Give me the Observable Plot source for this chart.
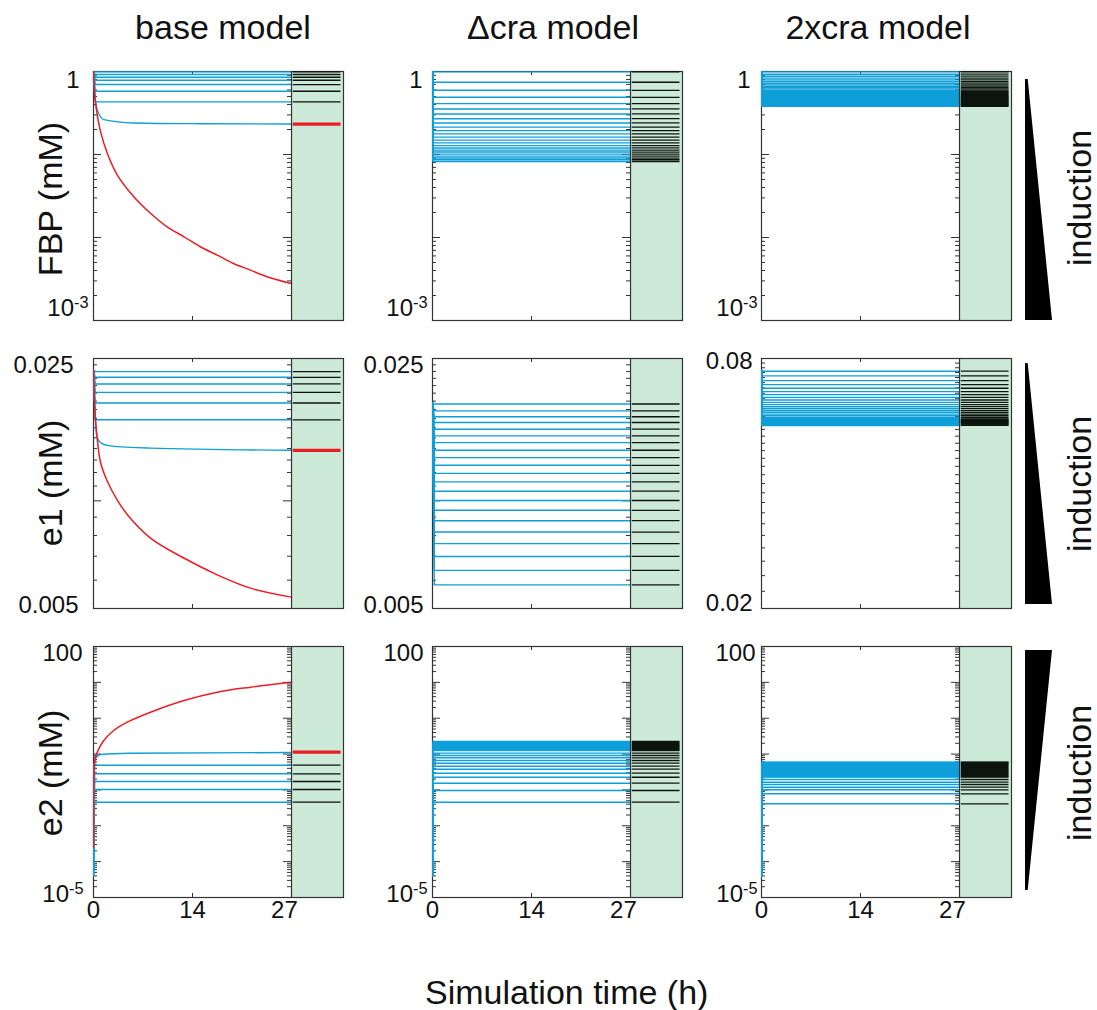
<!DOCTYPE html>
<html><head><meta charset="utf-8">
<script src="https://cdn.jsdelivr.net/npm/d3@7"></script>
<script src="https://cdn.jsdelivr.net/npm/@observablehq/plot@0.6"></script>
<style>
body{margin:0;background:#fff;font-family:"Liberation Sans",Arial,sans-serif;}
#fig{position:relative;width:1097px;height:1010px;overflow:hidden;background:#fff}
#fig > div{position:absolute}
</style></head><body><div id="fig"></div>
<script>
// ================= DATA =================
const T_END = 28;                 // end of simulation (h)
const X_MAX = 35.35;              // time axis incl. steady-state strip
const xTickValues = [0, 14, 27];
const xTickLabels = ["0", "14", "27"];
const columnTitles = ["base model", "\u0394cra model", "2xcra model"];
const rowLabels = ["FBP (mM)", "e1 (mM)", "e2 (mM)"];
const sideLabel = "induction";
const xLabel = "Simulation time (h)";

const fbpDomain = [0.001, 1];
const e1Domain = [0.005, 0.025];
const e1Domain2x = [0.02, 0.08];
const e2Domain = [1e-5, 100];
const fbpTickLabels = ["1", "10^-3"];
const e1TickLabels = ["0.025", "0.005"];
const e1TickLabels2x = ["0.08", "0.02"];
const e2TickLabels = ["100", "10^-5"];

// base model
const fbpStart = 1;
const fbpBaseFlat = [0.99, 0.92, 0.853, 0.785, 0.696, 0.578, 0.43];
const fbpBaseCurveT = [0, 0.18, 0.52, 1.46, 5.66, 15, 28];
const fbpBaseCurveV = [1, 0.553, 0.347, 0.263, 0.24, 0.235, 0.233];
const fbpBaseRedT = [0, 0.18, 0.52, 0.99, 1.94, 3.35, 5.7, 8.06, 10.4, 12.8, 15.1, 17.5, 19.8, 22.2, 24.6, 28];
const fbpBaseRedV = [1, 0.503, 0.302, 0.19, 0.104, 0.0569, 0.031, 0.0196, 0.01347, 0.0102, 0.00773, 0.00613, 0.00486, 0.00404, 0.00335, 0.00279];
const fbpBaseRedSS = 0.232;

const e1BaseStart = 0.0232;
const e1BaseFlat = [0.02298, 0.02215, 0.02122, 0.0201, 0.01877, 0.01685];
const e1BaseCurveT = [0, 0.18, 0.52, 1.2, 2.4, 8, 28];
const e1BaseCurveV = [0.0232, 0.0182, 0.0150, 0.01445, 0.01424, 0.01404, 0.01385];
const e1BaseRedT = [0, 0.18, 0.52, 1.0, 1.94, 3.3, 4.77, 8.06, 12.77, 17.5, 22.2, 28];
const e1BaseRedV = [0.0232, 0.0182, 0.0150, 0.0128, 0.01136, 0.0101, 0.00916, 0.00787, 0.00692, 0.00621, 0.0057, 0.00538];
const e1BaseRedSS = 0.01383;

const e2Start = 4.1e-5;
const e2BaseFlat = [0.049, 0.0282, 0.01718, 0.01028, 0.00455];
const e2BaseCurveT = [0, 0.03, 0.1, 0.28, 1, 5, 28];
const e2BaseCurveV = [4.1e-5, 0.01, 0.05, 0.0753, 0.0973, 0.105, 0.1107];
const e2BaseRedT = [0, 0.02, 0.1, 0.28, 0.75, 1.46, 2.87, 4.77, 8.06, 12.8, 17.5, 22.2, 28];
const e2BaseRedV = [2.5e-4, 0.0063, 0.0348, 0.0818, 0.14, 0.239, 0.455, 0.775, 1.47, 3.12, 5.32, 7.33, 10.1];
const e2BaseRedSS = 0.113;

// Δcra model
const fbpDcraSS = [0.99, 0.742, 0.594, 0.489, 0.41, 0.354, 0.308, 0.27, 0.24, 0.214, 0.194, 0.177, 0.162, 0.149, 0.138, 0.128, 0.12, 0.113, 0.107, 0.101, 0.0956, 0.0906, 0.0864, 0.0824];
const e1DcraStart = 0.0188;
const e1DcraSS = [0.01865, 0.01785, 0.01718, 0.01656, 0.01586, 0.01519, 0.01455, 0.01385, 0.01321, 0.01257, 0.01193, 0.0113, 0.01064, 0.01002, 0.00941, 0.0088, 0.00818, 0.00759, 0.00699, 0.00639, 0.00582];
const e2DcraSS = [0.2244, 0.2103, 0.1971, 0.1848, 0.1733, 0.1625, 0.1524, 0.1431, 0.1342, 0.1259, 0.106, 0.0913, 0.0787, 0.0662, 0.0557, 0.0459, 0.0379, 0.0293, 0.0226, 0.0154, 0.00964, 0.00455];

// 2xcra model
const fbp2xSS = [0.991, 0.928, 0.878, 0.831, 0.793, 0.757, 0.723, 0.69, 0.665, 0.641, 0.617, 0.595, 0.578, 0.562, 0.547, 0.532, 0.517, 0.503, 0.494, 0.485, 0.476, 0.467, 0.459, 0.45, 0.442, 0.434, 0.426, 0.418, 0.41, 0.403, 0.395, 0.388, 0.381];
const e12xStart = 0.0748;
const e12xSS = [0.07455, 0.07265, 0.07077, 0.06921, 0.06784, 0.06656, 0.06548, 0.0645, 0.06356, 0.06273, 0.06193, 0.06124, 0.06056, 0.05989, 0.05933, 0.05878, 0.05824, 0.0577, 0.05727, 0.05706, 0.05685, 0.05664, 0.05643, 0.05622, 0.05602, 0.05581, 0.0556, 0.05539, 0.05519];
const e22xSS = [0.0594, 0.0582, 0.0546, 0.0512, 0.0481, 0.0451, 0.0423, 0.0396, 0.0372, 0.0349, 0.0327, 0.0306, 0.0288, 0.027, 0.0253, 0.0237, 0.0227, 0.01954, 0.01644, 0.01419, 0.01192, 0.01009, 0.0078, 0.00411];

// induction wedge (relative width along the bar)
const wedgeY = [0, 1];
const wedgeDown = [0.1, 1];   // narrow at top, wide at bottom
const wedgeUp = [1, 0.1];     // wide at top, narrow at bottom

// ================= STYLE / LAYOUT =================
const GREEN = "#cde9d8", BLUE = "#0e9fd9", RED = "#ec1c24", INK = "#333", BLACK = "#0d150f";
const FONT = "'Liberation Sans', Arial, Helvetica, sans-serif";
const colLeft = [93, 432, 761];
const rowTop = [71, 358, 646];
const rowHeight = [249, 250, 251];
const PANEL_W = 250, MAIN_W = 198;
const ML = 100, MR = 6, MT = 10;
const TICK_FS = 24;

const panels = [
  {domain: fbpDomain, ticks: "log", labels: fbpTickLabels, flat: fbpBaseFlat, start: fbpStart, tReach: 0.25,
   curve: [fbpBaseCurveT, fbpBaseCurveV], red: [fbpBaseRedT, fbpBaseRedV], redSS: fbpBaseRedSS, black: fbpBaseFlat, dy: [9, -12], gap: [14, 5]},
  {domain: fbpDomain, ticks: "log", labels: fbpTickLabels, flat: fbpDcraSS, start: fbpStart, tReach: 0.05, black: fbpDcraSS, dy: [9, -12], gap: [10, 5]},
  {domain: fbpDomain, ticks: "log", labels: fbpTickLabels, flat: fbp2xSS, start: fbpStart, tReach: 0.05, black: fbp2xSS, dy: [9, -12], gap: [11, 4]},
  {domain: e1Domain, ticks: "lin", labels: e1TickLabels, flat: e1BaseFlat, start: e1BaseStart, tReach: 0.25,
   curve: [e1BaseCurveT, e1BaseCurveV], red: [e1BaseRedT, e1BaseRedV], redSS: e1BaseRedSS, black: e1BaseFlat, dy: [7, -3], gap: [20, 15]},
  {domain: e1Domain, ticks: "lin", labels: e1TickLabels, flat: e1DcraSS, start: e1DcraStart, tReach: 0.25, black: e1DcraSS, dy: [7, -3], gap: [9, 9]},
  {domain: e1Domain2x, ticks: "lin", labels: e1TickLabels2x, flat: e12xSS, start: e12xStart, tReach: 0.05, black: e12xSS, dy: [3, -5], gap: [9, 9]},
  {domain: e2Domain, ticks: "log", labels: e2TickLabels, flat: e2BaseFlat, start: e2Start, tReach: 0.15,
   curve: [e2BaseCurveT, e2BaseCurveV], red: [e2BaseRedT, e2BaseRedV], redSS: e2BaseRedSS, black: e2BaseFlat, dy: [7, -3], gap: [11, 10]},
  {domain: e2Domain, ticks: "log", labels: e2TickLabels, flat: e2DcraSS, start: e2Start, tReach: 0.08, black: e2DcraSS, dy: [7, -3], gap: [9, 5]},
  {domain: e2Domain, ticks: "log", labels: e2TickLabels, flat: e22xSS, start: e2Start, tReach: 0.08, black: e22xSS, dy: [7, -3], gap: [6, 4]}
];

const fig = document.getElementById("fig");
const SVGNS = "http://www.w3.org/2000/svg";

function place(node, left, top) {
  const d = document.createElement("div");
  d.style.left = left + "px"; d.style.top = top + "px";
  d.appendChild(node); fig.appendChild(d);
}

function superscripts(svg) {
  svg.querySelectorAll("text").forEach(t => {
    const s = t.textContent;
    if (s.includes("^")) {
      const [b, e] = s.split("^");
      t.textContent = b;
      const ts = document.createElementNS(SVGNS, "tspan");
      ts.setAttribute("dy", "-0.5em");
      ts.setAttribute("font-size", "0.68em");
      ts.textContent = e;
      t.appendChild(ts);
    }
  });
}

panels.forEach((p, k) => {
  const r = Math.floor(k / 3), c = k % 3;
  const H = rowHeight[r];
  const MB = r === 2 ? 42 : 10;
  const [lo, hi] = p.domain;
  const tickVals = p.ticks === "log" ? d3.scaleLog().domain(p.domain).ticks() : d3.ticks(lo, hi, 20);
  const isMajor = v => Math.abs(Math.log10(v) - Math.round(Math.log10(v))) < 1e-6;
  const minor = tickVals.filter(v => !isMajor(v)), major = tickVals.filter(isMajor);

  const flatRows = p.flat.flatMap((v, i) => [
    {t: 0, v: p.start, id: i}, {t: p.tReach, v, id: i}, {t: T_END, v, id: i}
  ]);
  const marks = [
    Plot.rect([{x1: T_END, x2: X_MAX}], {x1: "x1", x2: "x2", y1: () => lo, y2: () => hi, fill: GREEN}),
    Plot.frame({stroke: INK, strokeWidth: 1.2}),
    Plot.ruleY(minor, {insetRight: PANEL_W - 4, stroke: INK, strokeWidth: 1}),
    Plot.ruleY(major, {insetRight: PANEL_W - 8, stroke: INK, strokeWidth: 1}),
    Plot.ruleY(minor, {insetLeft: MAIN_W - 4, insetRight: PANEL_W - MAIN_W, stroke: INK, strokeWidth: 1}),
    Plot.ruleY(major, {insetLeft: MAIN_W - 8, insetRight: PANEL_W - MAIN_W, stroke: INK, strokeWidth: 1}),
    Plot.ruleX([14], {insetTop: H - 4, stroke: INK}),
    Plot.ruleX([14], {insetBottom: H - 4, stroke: INK}),
    Plot.line(flatRows, {x: "t", y: "v", z: "id", stroke: BLUE, strokeWidth: 1.4, clip: true})
  ];
  if (p.curve) {
    const rows = p.curve[0].map((t, i) => ({t, v: p.curve[1][i]}));
    marks.push(Plot.line(rows, {x: "t", y: "v", stroke: BLUE, strokeWidth: 1.4, curve: "monotone-x", clip: true}));
  }
  if (p.red) {
    const rows = p.red[0].map((t, i) => ({t, v: p.red[1][i]}));
    marks.push(Plot.line(rows, {x: "t", y: "v", stroke: RED, strokeWidth: 1.5, curve: "catmull-rom", clip: true}));
  }
  marks.push(Plot.ruleY(p.black, {x1: 28.25, x2: 35.0, stroke: BLACK, strokeWidth: 1.3}));
  if (p.redSS) marks.push(Plot.ruleY([p.redSS], {x1: 28.25, x2: 35.0, stroke: RED, strokeWidth: 3.2}));
  marks.push(Plot.ruleX([T_END], {stroke: INK, strokeWidth: 1.2}));
  marks.push(Plot.text([hi], {x: () => 0, y: d => d, text: () => p.labels[0], textAnchor: "end", dx: -p.gap[0], dy: p.dy[0], fontSize: TICK_FS, fill: "#111"}));
  marks.push(Plot.text([lo], {x: () => 0, y: d => d, text: () => p.labels[1], textAnchor: "end", dx: -p.gap[1], dy: p.dy[1], fontSize: TICK_FS, fill: "#111"}));
  if (r === 2) {
    marks.push(Plot.text(xTickValues, {x: d => d, text: (d, i) => xTickLabels[i], frameAnchor: "bottom", dy: 20, fontSize: TICK_FS, fill: "#111"}));
  }

  const svg = Plot.plot({
    width: ML + PANEL_W + MR, height: MT + H + MB,
    marginLeft: ML, marginRight: MR, marginTop: MT, marginBottom: MB,
    x: {domain: [0, X_MAX], axis: null},
    y: {type: "log", domain: p.domain, axis: null},
    style: {fontFamily: FONT, background: "transparent", overflow: "visible"},
    marks
  });
  superscripts(svg);
  place(svg, colLeft[c] - ML, rowTop[r] - MT);
});

// induction wedges
const wedgeTop = [79, 363, 650], wedgeH = [241, 241, 240];
[wedgeDown, wedgeDown, wedgeUp].forEach((w, r) => {
  const rows = wedgeY.map((y, i) => ({y, w: w[i]}));
  const svg = Plot.plot({
    width: 27, height: wedgeH[r], margin: 0,
    x: {domain: [0, 1], axis: null},
    y: {domain: [0, 1], range: [0, wedgeH[r]], axis: null},
    style: {background: "transparent"},
    marks: [Plot.areaX(rows, {y: "y", x1: () => 0, x2: "w", fill: "#000"})]
  });
  place(svg, 1025, wedgeTop[r]);
});

// overlay text
const ov = d3.select(fig).append("svg")
  .attr("width", 1097).attr("height", 1010)
  .style("position", "absolute").style("left", 0).style("top", 0)
  .style("pointer-events", "none")
  .attr("font-family", FONT).attr("fill", "#111");
[223, 553, 878].forEach((x, i) => ov.append("text").attr("x", x).attr("y", 38.5)
  .attr("text-anchor", "middle").attr("font-size", 34).text(columnTitles[i]));
[199, 483, 773].forEach((y, i) => ov.append("text").attr("transform", `translate(62,${y}) rotate(-90)`)
  .attr("text-anchor", "middle").attr("font-size", 34).text(rowLabels[i]));
[198, 484, 773].forEach(y => ov.append("text").attr("transform", `translate(1091,${y}) rotate(-90)`)
  .attr("text-anchor", "middle").attr("font-size", 34).text(sideLabel));
ov.append("text").attr("x", 566.7).attr("y", 1004).attr("text-anchor", "middle").attr("font-size", 34).text(xLabel);
</script></body></html>
